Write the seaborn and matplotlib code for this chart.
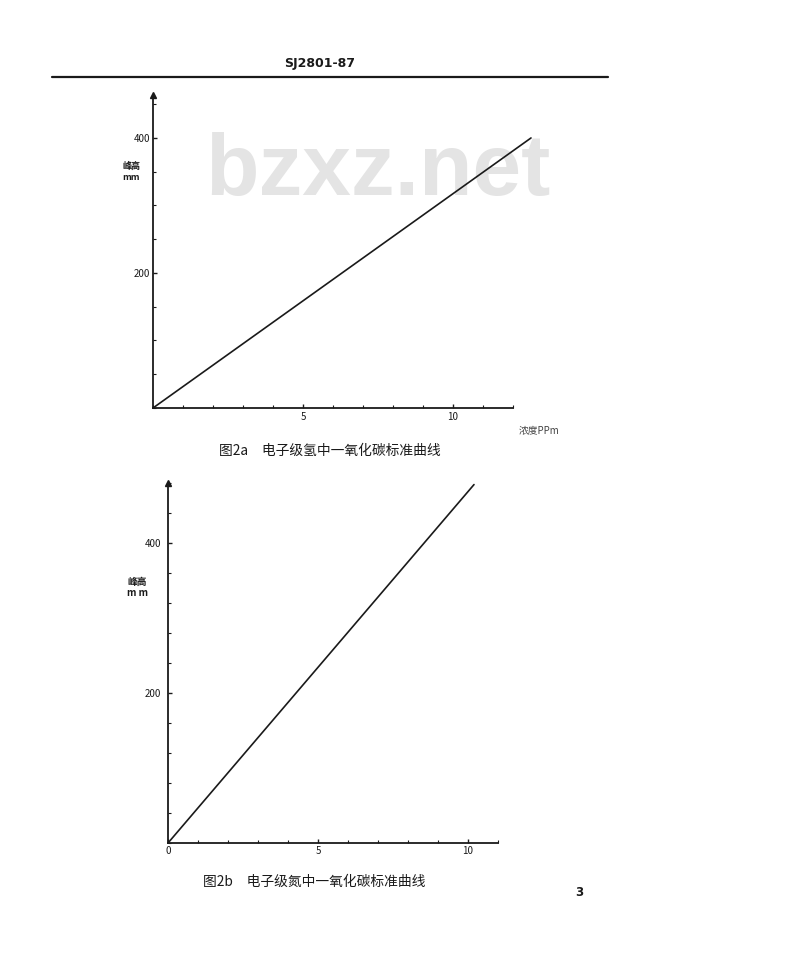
import matplotlib
matplotlib.use('Agg')
import matplotlib.pyplot as plt
from matplotlib.ticker import MultipleLocator, FixedLocator
import seaborn as sns

# data
conc_a = [0, 12.6]
peak_a = [0, 400]
conc_b = [0, 10.2]
peak_b = [0, 478]

xticks_a = [5, 10]
yticks_a = [200, 400]
xticks_b = [0, 5, 10]
yticks_b = [200, 400]

header = 'SJ2801-87'
caption_a = '图2a　电子级氢中一氧化碳标准曲线'
caption_b = '图2b　电子级氮中一氧化碳标准曲线'
ylabel = '峰高\nmm'
ylabel_b = '峰高\nm m'
xlabel_a = '浓度PPm'
watermark = 'bzxz.net'
page_no = '3'

sns.set_theme(style='ticks')
plt.rcParams['font.family'] = ['Noto Sans CJK SC', 'DejaVu Sans']

INK = '#1a1a1a'


def style_axis(ax, xmax, ymax, ymin_step):
    ax.set_xlim(0, xmax)
    ax.set_ylim(0, ymax)
    for side in ['top', 'right']:
        ax.spines[side].set_visible(False)
    for side in ['left', 'bottom']:
        ax.spines[side].set_color(INK)
        ax.spines[side].set_linewidth(1.3)
    ax.xaxis.set_minor_locator(MultipleLocator(1))
    ax.yaxis.set_minor_locator(MultipleLocator(ymin_step))
    ax.tick_params(which='both', direction='in', colors=INK, labelsize=7,
                   bottom=True, left=True)
    ax.tick_params(which='major', length=3, width=1)
    ax.tick_params(which='minor', length=2, width=0.8)
    ax.set_xlabel('')
    ax.set_ylabel('')
    ax.set_facecolor('none')
    for line in ax.lines:
        line.set_clip_on(False)
    # arrow head at the top of the y axis
    ax.plot(0, 1, marker='^', color=INK, markersize=4,
            transform=ax.transAxes, clip_on=False)


fig = plt.figure(figsize=(8, 9.65), dpi=100)

# --- chart a ---
ax1 = fig.add_axes([0.19125, 0.5772, 0.45, 0.3244])
sns.lineplot(x=conc_a, y=peak_a, ax=ax1, color=INK, linewidth=1.2)
style_axis(ax1, 12, 463.7, 50)
ax1.xaxis.set_major_locator(FixedLocator(xticks_a))
ax1.yaxis.set_major_locator(FixedLocator(yticks_a))
ax1.tick_params(axis='y', pad=2)
ax1.tick_params(axis='x', pad=3)
ax1.text(-0.06, 0.755, ylabel, transform=ax1.transAxes, ha='center', va='center',
         fontsize=6.5, fontweight='bold', color=INK, linespacing=1.25)
ax1.text(1.13, -0.055, xlabel_a, transform=ax1.transAxes, ha='right', va='top',
         fontsize=7, color='#444444')

# --- chart b ---
ax2 = fig.add_axes([0.21, 0.1264, 0.4125, 0.373])
sns.lineplot(x=conc_b, y=peak_b, ax=ax2, color=INK, linewidth=1.2)
style_axis(ax2, 11, 480, 40)
ax2.xaxis.set_major_locator(FixedLocator(xticks_b))
ax2.yaxis.set_major_locator(FixedLocator(yticks_b))
ax2.tick_params(axis='y', pad=5)
ax2.tick_params(axis='x', pad=2)
ax2.text(-0.093, 0.71, ylabel_b, transform=ax2.transAxes, ha='center', va='center',
         fontsize=7, fontweight='bold', color=INK, linespacing=1.15)

# page furniture
fig.text(0.40, 1 - 63 / 965, header, ha='center', va='center', fontsize=9,
         fontweight='bold', color=INK, family=['DejaVu Sans'])
fig.add_artist(plt.Line2D([52 / 800, 608 / 800], [1 - 77 / 965] * 2,
                          color=INK, linewidth=1.6))
fig.text(219 / 800, 1 - 451 / 965, caption_a, ha='left', va='center',
         fontsize=9.9, color=INK)
fig.text(203 / 800, 1 - 882 / 965, caption_b, ha='left', va='center',
         fontsize=9.9, color=INK)
fig.text(579 / 800, 1 - 893 / 965, page_no, ha='center', va='center',
         fontsize=8.5, fontweight='bold', color=INK, family=['DejaVu Sans'])
ax1.text(378 / 800, 1 - 172 / 965, watermark, transform=fig.transFigure,
         ha='center', va='center', fontsize=63, fontweight='bold',
         color='#e4e4e4', family=['Liberation Sans'], zorder=0.5, clip_on=False)

fig.savefig('out.png', dpi=100, facecolor='white')
plt.close()
